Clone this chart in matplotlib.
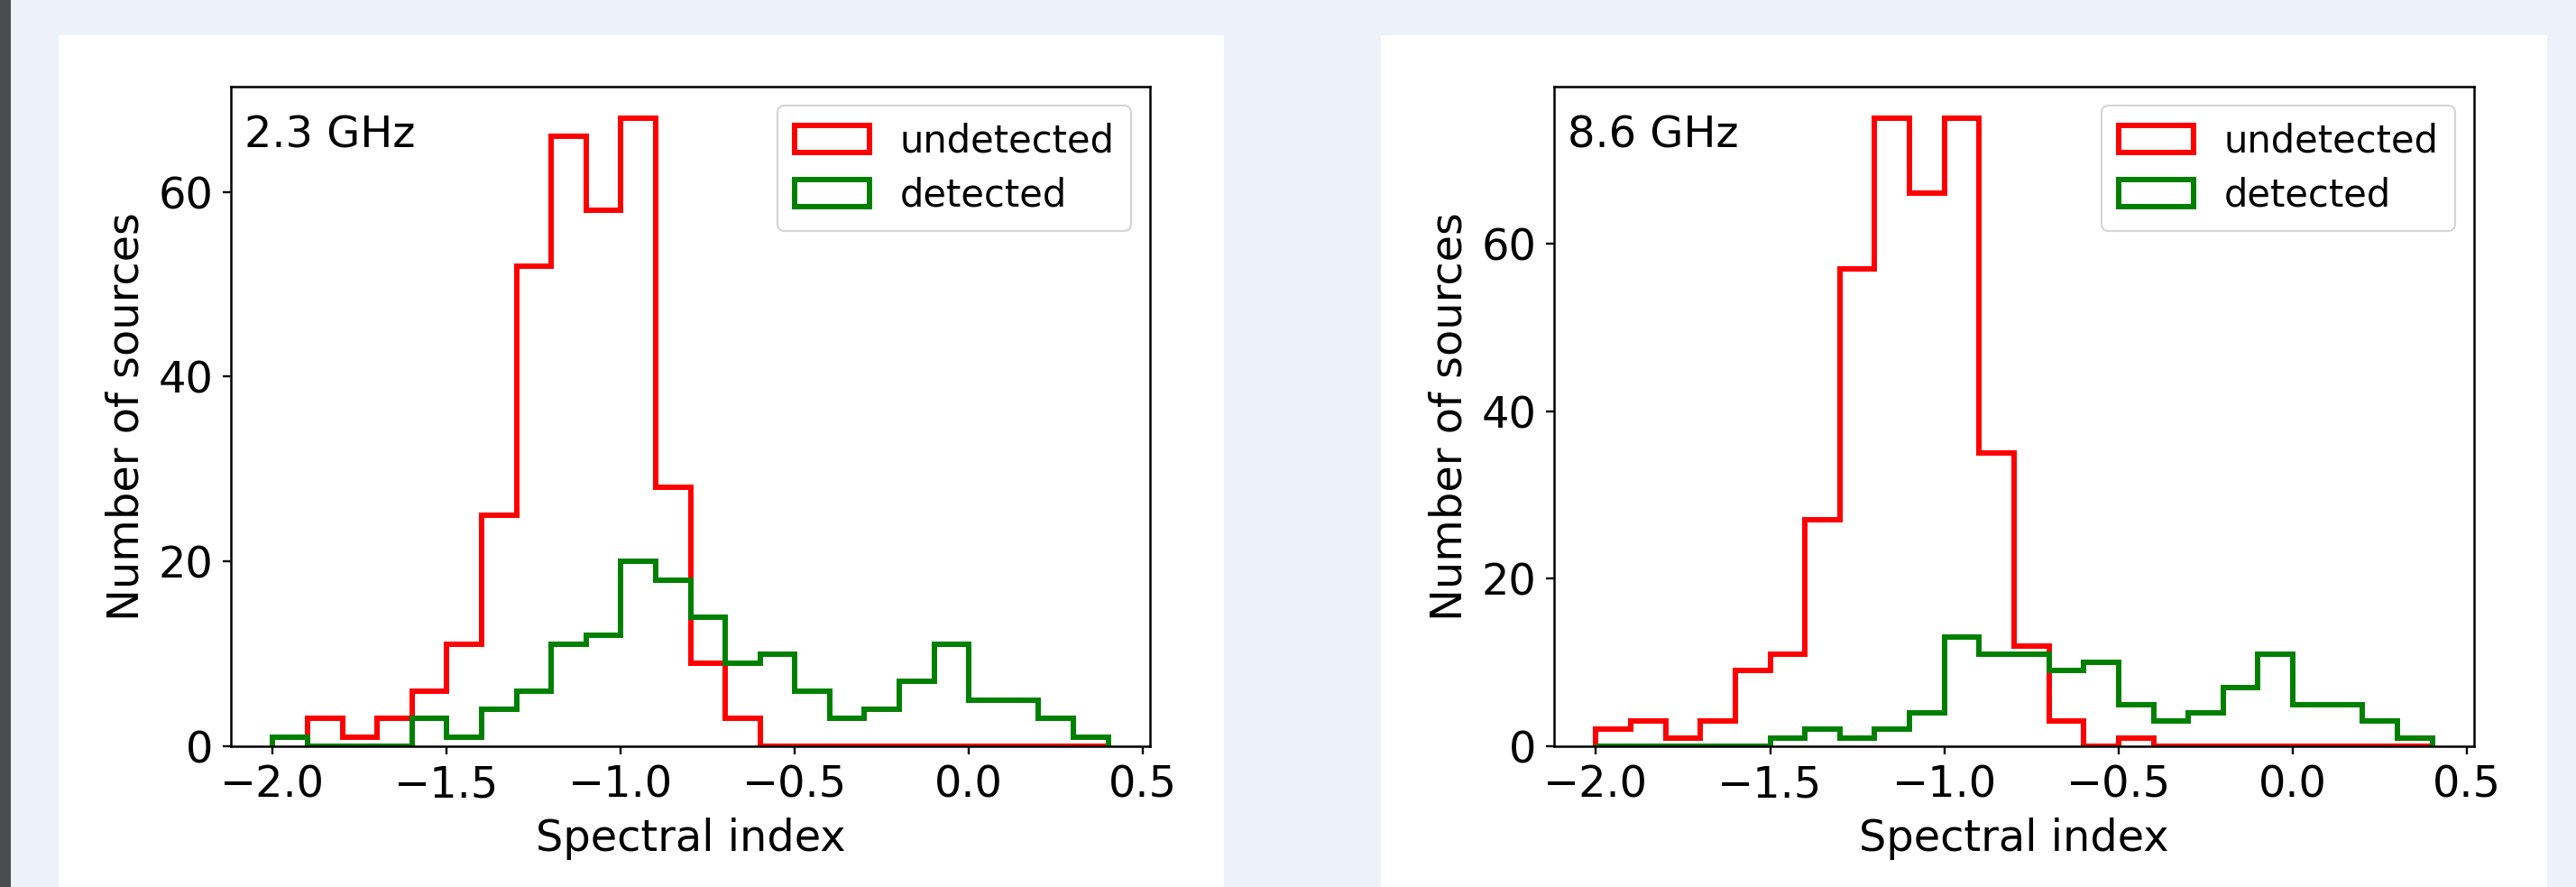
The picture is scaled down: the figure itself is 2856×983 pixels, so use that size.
import matplotlib
matplotlib.use("Agg")
import matplotlib.pyplot as plt
from matplotlib.patches import Rectangle
import numpy as np

# bin edges: spectral index from -2.0 to 0.4 in steps of 0.1
edges_all = np.round(np.arange(-2.0, 0.41, 0.1), 2)

# 2.3 GHz
und_23 = [3, 1, 3, 6, 11, 25, 52, 66, 58, 68, 28, 9, 3, 0, 0, 0, 0, 0, 0, 0, 0, 0, 0]   # from -1.9
det_23 = [1, 0, 0, 0, 3, 1, 4, 6, 11, 12, 20, 18, 14, 9, 10, 6, 3, 4, 7, 11, 5, 5, 3, 1]

# 8.6 GHz
und_86 = [2, 3, 1, 3, 9, 11, 27, 57, 75, 66, 75, 35, 12, 3, 0, 1, 0, 0, 0, 0, 0, 0, 0, 0]
det_86 = [0, 0, 0, 0, 0, 1, 2, 1, 2, 4, 13, 11, 11, 9, 10, 5, 3, 4, 7, 11, 5, 5, 3, 1]

panels = [
    ("2.3 GHz", edges_all[1:], und_23, edges_all, det_23),
    ("8.6 GHz", edges_all, und_86, edges_all, det_86),
]

W, H = 2856, 983
s = 2.16  # scale of the original figure
plt.rcParams.update({
    "font.family": "DejaVu Sans",
    "font.size": 34.5,
    "axes.linewidth": 1.8,
    "xtick.major.size": 6.7,
    "ytick.major.size": 6.7,
    "xtick.major.width": 1.7,
    "ytick.major.width": 1.7,
    "xtick.major.pad": 3.5 * s,
    "ytick.major.pad": 3.5 * s,
    "axes.labelpad": 4.0 * s,
    "patch.linewidth": 1.6,
})

fig = plt.figure(figsize=(W / 100, H / 100), dpi=100, facecolor="#edf1f9")

def px_rect(x0, y0, x1, y1, color):
    # rectangle given in image pixels (origin top-left)
    fig.add_artist(Rectangle((x0 / W, 1 - y1 / H), (x1 - x0) / W, (y1 - y0) / H,
                             transform=fig.transFigure, facecolor=color,
                             edgecolor="none", zorder=-10))

px_rect(0, 0, 12, H, "#4b4c4e")
px_rect(65, 39, 1357, H, "white")
px_rect(1531, 39, 2824, H, "white")

axes_px = [(256, 1275), (1723, 2743)]
top, bottom = 96, 827

for (x0, x1), (label, e_u, c_u, e_d, c_d) in zip(axes_px, panels):
    ax = fig.add_axes([x0 / W, 1 - bottom / H, (x1 - x0) / W, (bottom - top) / H])
    ax.hist(e_u[:-1] + 0.05, bins=e_u, weights=c_u, histtype="step",
            color="red", linewidth=4.3, label="undetected")
    ax.hist(e_d[:-1] + 0.05, bins=e_d, weights=c_d, histtype="step",
            color="green", linewidth=4.3, label="detected")
    ax.set_xticks([-2.0, -1.5, -1.0, -0.5, 0.0, 0.5])
    ax.set_yticks([0, 20, 40, 60])
    ax.set_xlabel("Spectral index")
    ax.set_ylabel("Number of sources")
    ax.text(0.015, 0.908, label, transform=ax.transAxes)
    ax.legend(loc="upper right", fontsize=30, labelspacing=0.43, borderpad=0.45)

fig.savefig("out.png", dpi=100, facecolor=fig.get_facecolor())
